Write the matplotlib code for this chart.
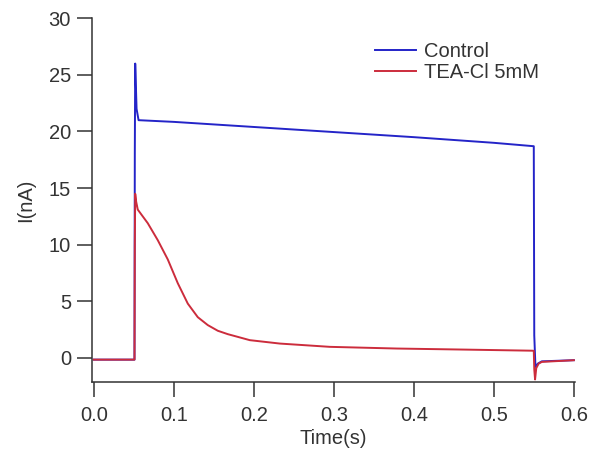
import matplotlib
matplotlib.use("Agg")
import matplotlib.pyplot as plt

# Data
control_t = [0.0, 0.0509, 0.0513, 0.0518, 0.0535, 0.056, 0.1, 0.2, 0.3, 0.4, 0.5, 0.5499,
             0.5505, 0.552, 0.555, 0.56, 0.6]
control_i = [-0.15, -0.15, 18.0, 26.0, 22.0, 21.0, 20.85, 20.4, 19.95, 19.5, 19.0, 18.7,
             2.0, -0.8, -0.5, -0.3, -0.2]

tea_t = [0.0, 0.0509, 0.0513, 0.0518, 0.053, 0.055, 0.0675, 0.080, 0.0925, 0.105, 0.1175,
         0.130, 0.1425, 0.155, 0.1675, 0.180, 0.195, 0.2325, 0.295, 0.379, 0.461, 0.5475,
         0.5499, 0.5505, 0.5515, 0.553, 0.556, 0.56, 0.6]
tea_i = [-0.15, -0.15, 10.0, 14.5, 13.8, 13.1, 11.9, 10.4, 8.7, 6.6, 4.8, 3.6, 2.9, 2.4,
         2.1, 1.86, 1.57, 1.27, 0.98, 0.83, 0.74, 0.64, 0.63, -1.0, -1.9, -0.9, -0.5,
         -0.35, -0.2]

x_ticks = [0.0, 0.1, 0.2, 0.3, 0.4, 0.5, 0.6]
y_ticks = [0, 5, 10, 15, 20, 25, 30]

plt.rcParams['font.family'] = ['Liberation Sans', 'DejaVu Sans']

FS = 14.5
fig = plt.figure(figsize=(5.92, 4.57), dpi=100)
ax = fig.add_axes([0.155, 0.164, 0.816, 0.796])

ax.plot(control_t, control_i, color='#2424c8', lw=1.4, label='Control')
ax.plot(tea_t, tea_i, color='#cc2c3c', lw=1.4, label='TEA-Cl 5mM')

ax.set_xlim(-0.0025, 0.6012)
ax.set_ylim(-2.13, 30)
ax.set_xticks(x_ticks)
ax.set_xticklabels(['%.1f' % v for v in x_ticks])
ax.set_yticks(y_ticks)

for s in ['top', 'right']:
    ax.spines[s].set_visible(False)
for s in ['left', 'bottom']:
    ax.spines[s].set_color('#333333')
    ax.spines[s].set_linewidth(1.1)

ax.tick_params(axis='x', direction='out', length=11, width=1.1, color='#333333',
               labelsize=FS, labelcolor='#333333', pad=6)
ax.tick_params(axis='y', direction='out', length=11, width=1.1, color='#333333',
               labelsize=FS, labelcolor='#333333', pad=4)

ax.set_xlabel('Time(s)', fontsize=FS, color='#333333', labelpad=3)
ax.set_ylabel('I(nA)', fontsize=FS, color='#333333', labelpad=10)

leg = ax.legend(loc='upper left', bbox_to_anchor=(0.587, 0.935), frameon=False,
                fontsize=FS, handlelength=2.0, handletextpad=0.4, labelspacing=0.1,
                borderaxespad=0, borderpad=0)
for txt in leg.get_texts():
    txt.set_color('#333333')

fig.savefig('out.png', dpi=100)
